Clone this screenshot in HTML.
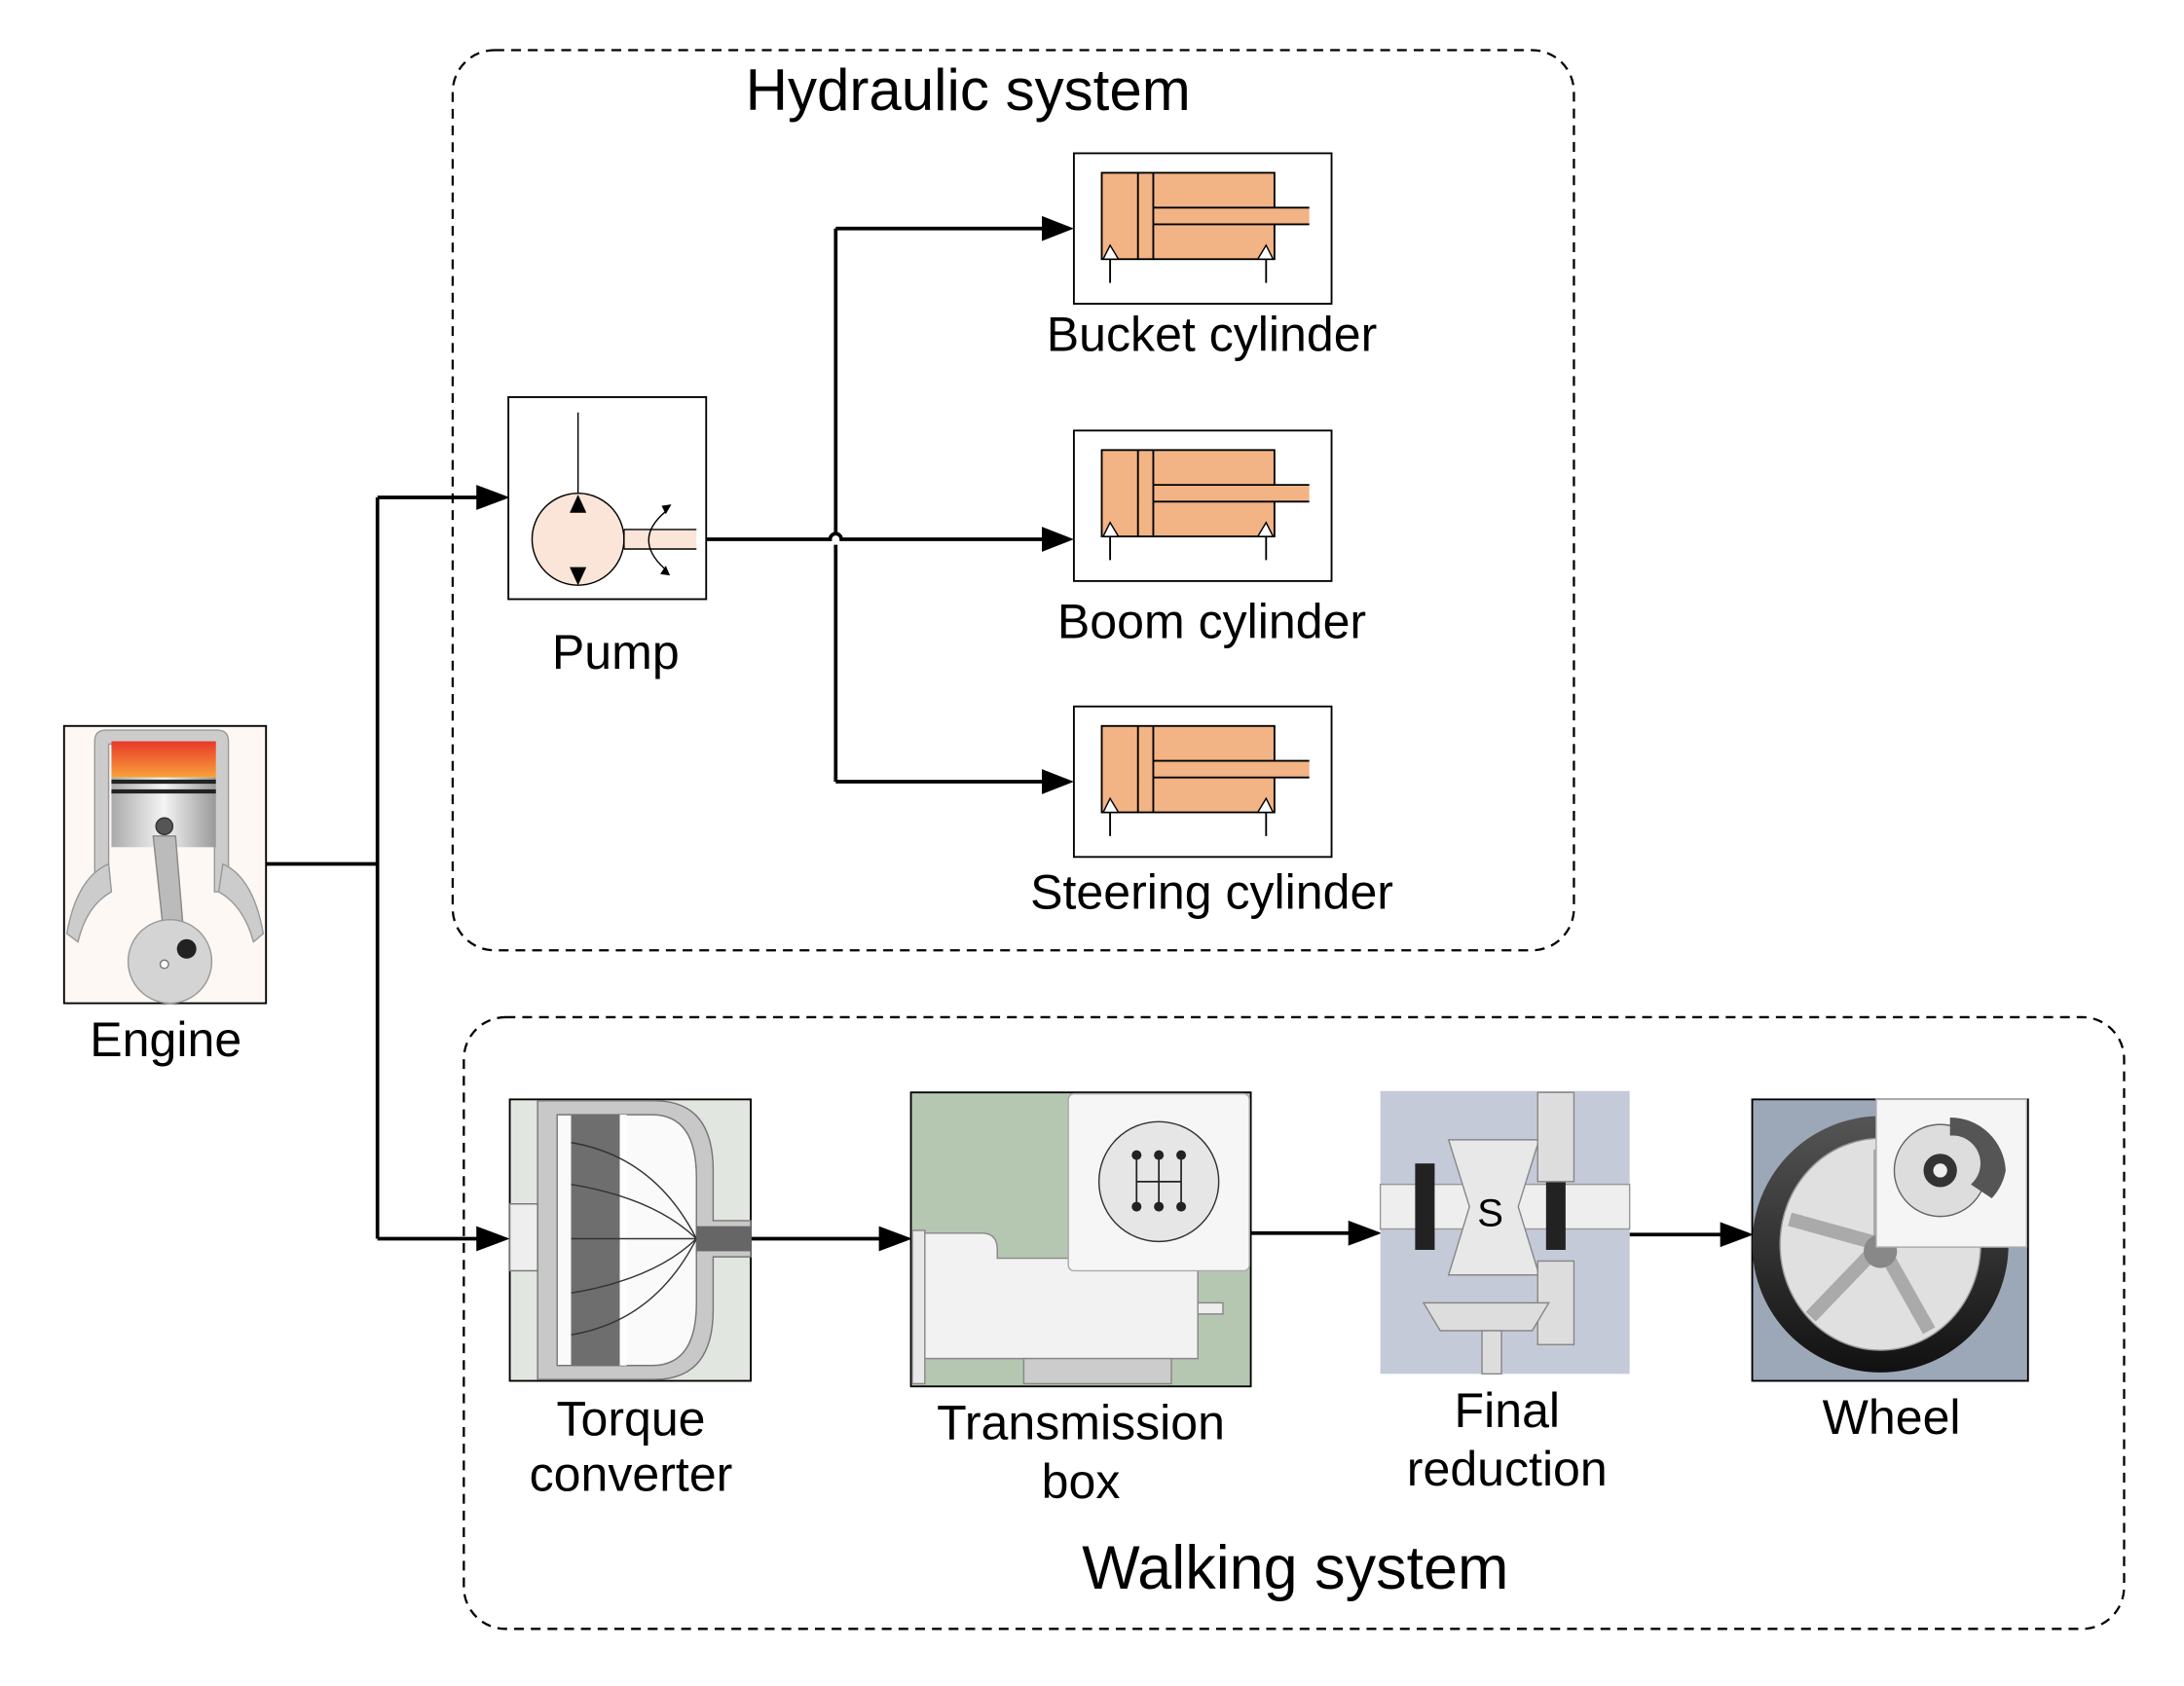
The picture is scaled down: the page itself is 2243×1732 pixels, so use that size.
<!DOCTYPE html>
<html><head><meta charset="utf-8"><style>
html,body{margin:0;padding:0;background:#fff;width:2243px;height:1732px;overflow:hidden}
svg{display:block}
text{font-family:"Liberation Sans",Arial,sans-serif;fill:#000}
</style></head><body>
<svg width="2243" height="1732" viewBox="0 0 1568 1210" preserveAspectRatio="none" xmlns="http://www.w3.org/2000/svg">
<defs>
<linearGradient id="fire" x1="0" y1="0" x2="0" y2="1"><stop offset="0" stop-color="#e8382a"/><stop offset="1" stop-color="#f8a23a"/></linearGradient>
<linearGradient id="metal" x1="0" y1="0" x2="1" y2="0"><stop offset="0" stop-color="#aaa"/><stop offset=".5" stop-color="#f4f4f4"/><stop offset="1" stop-color="#999"/></linearGradient>
<linearGradient id="tire" x1="0" y1="0" x2="0" y2="1"><stop offset="0" stop-color="#555"/><stop offset="1" stop-color="#111"/></linearGradient>
</defs>

<rect x="325" y="36" width="805" height="646" rx="30" fill="none" stroke="#000" stroke-width="1.6" stroke-dasharray="7,5"/>
<rect x="333" y="730" width="1192" height="439" rx="30" fill="none" stroke="#000" stroke-width="1.6" stroke-dasharray="7,5"/>
<text x="695" y="79" font-size="42" text-anchor="middle">Hydraulic system</text>
<text x="930" y="1140" font-size="44" text-anchor="middle">Walking system</text>

<g stroke="#000" stroke-width="2.6" fill="none">
<path d="M191,620 H271 M271,357 V889"/>
<path d="M271,357 H350"/>
<path d="M271,889 H350"/>
<path d="M507,387 H596 A4,4 0 0 1 604,387 H756"/>
<path d="M600,164 V383 M600,391 V561"/>
<path d="M600,164 H756 M600,561 H756"/>
<path d="M539,889 H638"/>
<path d="M898,885 H975"/>
<path d="M1170,886 H1242"/>
</g>
<g fill="#000">
<path d="M342,348 L366,357 L342,366z"/>
<path d="M342,880 L366,889 L342,898z"/>
<path d="M748,155 L771,164 L748,173z"/>
<path d="M748,378 L771,387 L748,396z"/>
<path d="M748,552 L771,561 L748,570z"/>
<path d="M631,880 L655,889 L631,898z"/>
<path d="M968,876 L992,885 L968,894z"/>
<path d="M1235,877 L1259,886 L1235,895z"/>
</g>

<rect x="365" y="285" width="142" height="145" fill="#fff" stroke="#000" stroke-width="1.3"/>
<line x1="415" y1="296" x2="415" y2="360" stroke="#000" stroke-width="1"/>
<ellipse cx="415" cy="387" rx="33" ry="33" fill="#fae5d8" stroke="#000" stroke-width="1"/>
<path d="M409,368 L415,355 L421,368z M409,407 L415,420 L421,407z" fill="#000"/>
<rect x="448" y="380" width="52" height="14" fill="#fae5d8"/>
<path d="M448,380 H500 M448,394 H500 M448,380 V394" stroke="#000" stroke-width="1" fill="none"/>
<path d="M478,367 Q454,387 477,408" stroke="#000" stroke-width="1" fill="none"/>
<path d="M475,363 L482,362 L478,369z M474,412 L481,413 L478,406z" fill="#000"/>
<text x="442" y="480" font-size="35" text-anchor="middle">Pump</text>

<g id="cyl">
<rect x="771" y="110" width="185" height="108" fill="#fff" stroke="#000" stroke-width="1.3"/>
<rect x="791" y="124" width="124" height="62" fill="#f2b385" stroke="#000" stroke-width="1.3"/>
<rect x="828" y="149" width="112" height="12" fill="#f2b385"/>
<path d="M828,149 H940 M828,161 H940 M817,124 V186 M828,124 V186" stroke="#000" stroke-width="1.3"/>
<path d="M792,186 L797,176 L803,186z M903,186 L909,176 L914,186z" fill="#fff" stroke="#000" stroke-width="1"/>
<path d="M797,186 V203 M909,186 V203" stroke="#000" stroke-width="1.3"/>
</g>
<use href="#cyl" y="199"/>
<use href="#cyl" y="397"/>
<text x="870" y="252" font-size="35" text-anchor="middle">Bucket cylinder</text>
<text x="870" y="458" font-size="35" text-anchor="middle">Boom cylinder</text>
<text x="870" y="652" font-size="35" text-anchor="middle">Steering cylinder</text>

<rect x="46" y="521" width="145" height="199" fill="#fdf8f4" stroke="#000" stroke-width="1.3"/>
<path d="M68,640 V532 Q68,524 76,524 H156 Q164,524 164,532 V640 L154,640 V534 H78 V640 Z" fill="#ccc" stroke="#999"/>
<path d="M48,670 Q55,630 78,620 L80,640 Q62,650 56,676Z M189,670 Q182,630 160,620 L157,640 Q175,650 182,676Z" fill="#ccc" stroke="#999"/>
<rect x="80" y="532" width="75" height="26" fill="url(#fire)"/>
<rect x="80" y="558" width="75" height="50" fill="url(#metal)"/>
<path d="M80,561 H155 M80,568 H155" stroke="#222" stroke-width="3"/>
<circle cx="118" cy="593" r="6" fill="#555" stroke="#333"/>
<path d="M110,600 L126,600 L132,672 L118,675Z" fill="#bbb" stroke="#888"/>
<ellipse cx="122" cy="690" rx="30" ry="30" fill="#d4d4d4" stroke="#999"/>
<circle cx="134" cy="681" r="7" fill="#222"/>
<circle cx="118" cy="692" r="3" fill="#fff" stroke="#777"/>
<text x="119" y="758" font-size="35" text-anchor="middle">Engine</text>

<rect x="366" y="789" width="173" height="202" fill="#e2e6e0" stroke="#000" stroke-width="1.3"/>
<path d="M386,790 H470 Q512,790 512,840 V876 H539 V902 H512 V940 Q512,990 470,990 H386Z" fill="#c8c8c8" stroke="#777"/>
<path d="M400,800 H468 Q500,800 500,845 V935 Q500,980 468,980 H400Z" fill="#fafafa" stroke="#777"/>
<path d="M410,800 H445 V980 H410Z" fill="#6e6e6e"/>
<path d="M445,800 H450 V980 H445Z" fill="#fff"/>
<g stroke="#333" fill="none" stroke-width="1"><path d="M410,820 Q470,830 500,889 M410,850 Q470,860 500,889 M410,928 Q470,918 500,889 M410,958 Q470,948 500,889 M410,889 H500"/></g>
<rect x="366" y="864" width="20" height="48" fill="#eee" stroke="#777"/>
<rect x="500" y="880" width="39" height="18" fill="#666"/>
<text x="453" y="1030" font-size="35" text-anchor="middle">Torque</text>
<text x="453" y="1070" font-size="35" text-anchor="middle">converter</text>

<rect x="654" y="784" width="244" height="211" fill="#b5c7b1" stroke="#000" stroke-width="1.3"/>
<path d="M660,885 H705 Q716,885 716,897 V903 H860 V975 H660Z" fill="#f2f2f2" stroke="#888"/>
<rect x="655" y="883" width="9" height="110" fill="#e8e8e8" stroke="#888"/>
<rect x="735" y="975" width="106" height="18" fill="#ccc" stroke="#888"/>
<rect x="860" y="935" width="18" height="8" fill="#eee" stroke="#888"/>
<rect x="767" y="785" width="130" height="127" rx="4" fill="#f6f6f6" stroke="#aaa"/>
<ellipse cx="832" cy="848" rx="43" ry="43" fill="#e6e6e6" stroke="#333"/>
<g fill="#222"><circle cx="816" cy="829" r="3.5"/><circle cx="832" cy="829" r="3.5"/><circle cx="848" cy="829" r="3.5"/><circle cx="816" cy="866" r="3.5"/><circle cx="832" cy="866" r="3.5"/><circle cx="848" cy="866" r="3.5"/></g>
<path d="M816,829 V866 M832,829 V866 M848,829 V866 M816,848 H848" stroke="#222" stroke-width="1.2"/>
<text x="776" y="1033" font-size="35" text-anchor="middle">Transmission</text>
<text x="776" y="1075" font-size="35" text-anchor="middle">box</text>

<rect x="991" y="783" width="179" height="203" fill="#c5cad8"/>
<rect x="991" y="850" width="179" height="32" fill="#eee" stroke="#999"/>
<rect x="1016" y="835" width="14" height="62" fill="#222"/>
<rect x="1110" y="835" width="14" height="62" fill="#222"/>
<path d="M1040,818 H1105 L1090,866 L1105,915 H1040 L1055,866Z" fill="#e8e8e8" stroke="#888"/>
<rect x="1104" y="784" width="26" height="64" fill="#ddd" stroke="#888"/>
<rect x="1104" y="905" width="26" height="60" fill="#ddd" stroke="#888"/>
<path d="M1022,935 H1112 L1100,955 H1034Z" fill="#ddd" stroke="#888"/>
<rect x="1064" y="955" width="14" height="31" fill="#ddd" stroke="#888"/>
<text x="1070" y="880" font-size="28" text-anchor="middle" fill="#333">S</text>
<text x="1082" y="1024" font-size="35" text-anchor="middle">Final</text>
<text x="1082" y="1066" font-size="35" text-anchor="middle">reduction</text>

<rect x="1258" y="789" width="198" height="202" fill="#9ca8b8" stroke="#000" stroke-width="1.3"/>
<ellipse cx="1350" cy="893" rx="92" ry="92" fill="url(#tire)"/>
<ellipse cx="1350" cy="893" rx="72" ry="76" fill="#e0e0e0" stroke="#999"/>
<g stroke="#aaa" stroke-width="10"><path d="M1350,893 L1350,825 M1350,893 L1285,875 M1350,893 L1300,945 M1350,893 L1385,955 M1350,893 L1410,880"/></g>
<circle cx="1350" cy="898" r="12" fill="#888"/>
<rect x="1347" y="789" width="108" height="106" fill="#f5f5f5" stroke="#aaa"/>
<circle cx="1393" cy="840" r="33" fill="#ddd" stroke="#666"/>
<path d="M1400,802 A40,40 0 0 1 1440,840 A40,40 0 0 1 1430,860 L1415,850 A20,20 0 0 0 1400,815Z" fill="#555"/>
<circle cx="1393" cy="840" r="12" fill="#333"/><circle cx="1393" cy="840" r="5" fill="#eee"/>
<text x="1358" y="1029" font-size="35" text-anchor="middle">Wheel</text>
</svg>
</body></html>
